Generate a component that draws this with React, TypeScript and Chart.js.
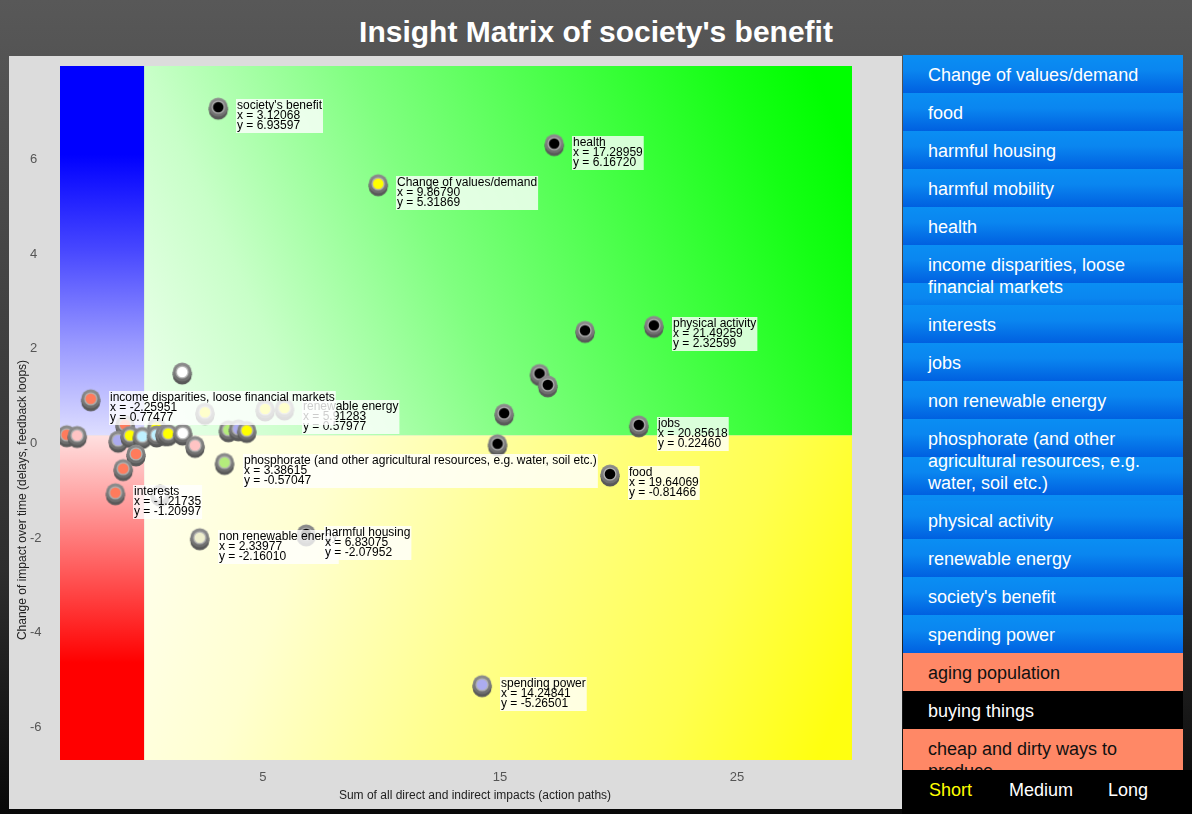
import React, { useEffect, useRef } from 'react';
import { Chart, registerables } from 'chart.js';

Chart.register(...registerables);

// ---------- data ----------
const labeledNames = [
  'Change of values/demand',
  'food',
  'harmful housing',
  'health',
  'income disparities, loose financial markets',
  'interests',
  'jobs',
  'non renewable energy',
  'phosphorate (and other agricultural resources, e.g. water, soil etc.)',
  'physical activity',
  'renewable energy',
  "society's benefit",
  'spending power',
];
const labeledX = [9.8679, 19.64069, 6.83075, 17.28959, -2.25951, -1.21735, 20.85618, 2.33977, 3.38615, 21.49259, 5.91283, 3.12068, 14.24841];
const labeledY = [5.31869, -0.81466, -2.07952, 6.1672, 0.77477, -1.20997, 0.2246, -2.1601, -0.57047, 2.32599, 0.57977, 6.93597, -5.26501];
const labeledColors = ['#ffff00', '#000000', '#000000', '#000000', '#ff7b5c', '#ff7b5c', '#000000', '#eeeecc', '#b4ec7c', '#000000', '#ffff00', '#000000', '#acacf0'];

const otherX = [18.59, 16.67, 17.02, 15.18, 14.9, 1.6, -3.27, -2.83, -0.81, -1.1, -0.6, 0.52, -0.08, 0.52, 0.87, 1.01, 1.62, 2.14, -0.35, -0.89, 2.56, 5.1, 3.55, 3.97, 4.32, 0.67];
const otherY = [2.22, 1.31, 1.07, 0.47, -0.175, 1.34, 0.015, 0.0, 0.23, -0.1, 0.0, 0.17, -0.02, 0.01, 0.04, 0.04, 0.05, -0.21, -0.39, -0.7, 0.49, 0.56, 0.12, 0.14, 0.105, -1.24];
const otherColors = ['#000000', '#000000', '#000000', '#000000', '#000000', '#ffffff', '#ff7b5c', '#ffc4c4', '#ff7b5c', '#acacf0', '#ffff00', '#ffff00', '#bff0ff', '#bff0ff', '#acacf0', '#ffff00', '#ffffff', '#ffc4c4', '#ff7b5c', '#ff7b5c', '#ffff00', '#ffff00', '#b4ec7c', '#acacf0', '#ffff00', '#ffffff'];

const xTicks = [5, 15, 25];
const yTicks = [-6, -4, -2, 0, 2, 4, 6];
const X_MIN = -3.554;
const X_MAX = 29.85;
const Y_MIN = -6.857;
const Y_MAX = 7.806;

const titleText = "Insight Matrix of society's benefit";
const xTitle = 'Sum of all direct and indirect impacts (action paths)';
const yTitle = 'Change of impact over time (delays, feedback loops)';

const sidebarLabels = [
  'Change of values/demand',
  'food',
  'harmful housing',
  'harmful mobility',
  'health',
  'income disparities, loose financial markets',
  'interests',
  'jobs',
  'non renewable energy',
  'phosphorate (and other agricultural resources, e.g. water, soil etc.)',
  'physical activity',
  'renewable energy',
  "society's benefit",
  'spending power',
  'aging population',
  'buying things',
  'cheap and dirty ways to produce',
];
const sidebarKinds = ['blue', 'blue', 'blue', 'blue', 'blue', 'blue', 'blue', 'blue', 'blue', 'blue', 'blue', 'blue', 'blue', 'blue', 'salmon', 'black', 'salmon'];
const tabLabels = ['Short', 'Medium', 'Long'];
const tabColors = ['#ffff00', '#ffffff', '#ffffff'];
const tabLefts = [929, 1009, 1108];

const FONT = '"Liberation Sans", Arial, Helvetica, sans-serif';

// ---------- marker images ----------
function makeMarker(color: string): HTMLCanvasElement {
  const c = document.createElement('canvas');
  c.width = 22;
  c.height = 34;
  const g = c.getContext('2d') as CanvasRenderingContext2D;
  const cx = 11;
  const cy = 17;
  const r = 9.5;
  g.fillStyle = '#595959';
  g.beginPath();
  g.arc(cx, cy + 3, r, 0, Math.PI * 2);
  g.fill();
  g.fillRect(cx - r, cy, r * 2, 3);
  const grd = g.createLinearGradient(0, cy - r, 0, cy + r);
  grd.addColorStop(0, '#8e8e8e');
  grd.addColorStop(1, '#6c6c6c');
  g.fillStyle = grd;
  g.beginPath();
  g.arc(cx, cy, r, 0, Math.PI * 2);
  g.fill();
  g.fillStyle = '#b2b2b2';
  g.beginPath();
  g.arc(cx, cy, 6.6, 0, Math.PI * 2);
  g.fill();
  g.fillStyle = color;
  g.beginPath();
  g.arc(cx, cy, 5.3, 0, Math.PI * 2);
  g.fill();
  return c;
}

// ---------- plugins ----------
const quadrantPlugin = {
  id: 'quadrants',
  beforeDatasetsDraw(chart: any) {
    const { ctx, chartArea: a, scales } = chart;
    const x0 = scales.x.getPixelForValue(0);
    const y0 = scales.y.getPixelForValue(0);
    ctx.save();
    let g = ctx.createLinearGradient(0, a.top, 0, y0);
    g.addColorStop(0, '#0000ff');
    g.addColorStop(0.24, '#0000ff');
    g.addColorStop(0.5, '#4848ff');
    g.addColorStop(0.75, '#9898ff');
    g.addColorStop(1, '#dedeff');
    ctx.fillStyle = g;
    ctx.fillRect(a.left, a.top, x0 - a.left, y0 - a.top);
    g = ctx.createLinearGradient(0, y0, 0, a.bottom);
    g.addColorStop(0, '#ffe0e0');
    g.addColorStop(0.35, '#ff7070');
    g.addColorStop(0.7, '#ff0000');
    g.addColorStop(1, '#ff0000');
    ctx.fillStyle = g;
    ctx.fillRect(a.left, y0, x0 - a.left, a.bottom - y0);
    g = ctx.createLinearGradient(x0, y0, x0 + 0.98 * (a.right - x0), y0 - 0.84 * (y0 - a.top));
    g.addColorStop(0, '#eeffee');
    g.addColorStop(0.2, '#c8ffc8');
    g.addColorStop(0.45, '#80ff80');
    g.addColorStop(0.7, '#44ff44');
    g.addColorStop(0.9, '#14ff14');
    g.addColorStop(1, '#00ff00');
    ctx.fillStyle = g;
    ctx.fillRect(x0, a.top, a.right - x0, y0 - a.top);
    g = ctx.createLinearGradient(x0, y0, x0 + 0.98 * (a.right - x0), y0 + 0.84 * (a.bottom - y0));
    g.addColorStop(0, '#fffff2');
    g.addColorStop(0.25, '#ffffd0');
    g.addColorStop(0.5, '#ffff90');
    g.addColorStop(0.8, '#ffff50');
    g.addColorStop(1, '#ffff10');
    ctx.fillStyle = g;
    ctx.fillRect(x0, y0, a.right - x0, a.bottom - y0);
    ctx.restore();
  },
};

const labelPlugin = {
  id: 'pointLabels',
  afterDatasetsDraw(chart: any) {
    const ctx = chart.ctx;
    const meta = chart.getDatasetMeta(1);
    const order = labeledNames
      .map((_, i) => i)
      .sort((a, b) => labeledNames[b].localeCompare(labeledNames[a]));
    ctx.save();
    ctx.font = '12px ' + FONT;
    ctx.textAlign = 'left';
    ctx.textBaseline = 'alphabetic';
    for (const i of order) {
      const el = meta.data[i];
      const lines = [labeledNames[i], 'x = ' + labeledX[i].toFixed(5), 'y = ' + labeledY[i].toFixed(5)];
      const w = Math.max(...lines.map((l) => ctx.measureText(l).width)) + 2;
      const bx = Math.round(el.x + 18);
      const by = Math.round(el.y - 8);
      ctx.fillStyle = 'rgba(255,255,255,0.8)';
      ctx.fillRect(bx, by, w, 34);
      ctx.fillStyle = '#000';
      lines.forEach((l, k) => ctx.fillText(l, bx + 1, by + 10 + k * 10));
    }
    ctx.restore();
  },
};

const axisTitlePlugin = {
  id: 'axisTitles',
  afterDraw(chart: any) {
    const { ctx, chartArea: a } = chart;
    ctx.save();
    ctx.font = '12px ' + FONT;
    ctx.fillStyle = '#222';
    ctx.textAlign = 'center';
    ctx.textBaseline = 'middle';
    ctx.fillText(xTitle, a.left + 415, a.bottom + 36);
    ctx.translate(13.5, a.bottom - 260);
    ctx.rotate(-Math.PI / 2);
    ctx.fillText(yTitle, 0, 0);
    ctx.restore();
  },
};

function MatrixChart() {
  const ref = useRef<HTMLCanvasElement | null>(null);
  useEffect(() => {
    if (!ref.current) return;
    const otherStyles = otherColors.map(makeMarker);
    const labeledStyles = labeledColors.map(makeMarker);
    const chart = new Chart(ref.current, {
      type: 'scatter',
      data: {
        datasets: [
          {
            data: otherX.map((x, i) => ({ x, y: otherY[i] })),
            pointStyle: otherStyles as any,
            pointRadius: 9,
            pointHoverRadius: 9,
          },
          {
            data: labeledX.map((x, i) => ({ x, y: labeledY[i] })),
            pointStyle: labeledStyles as any,
            pointRadius: 9,
            pointHoverRadius: 9,
          },
        ],
      },
      options: {
        responsive: false,
        animation: false,
        events: [],
        layout: { padding: { top: 9, right: 50, left: 21, bottom: 0 } },
        plugins: {
          legend: { display: false },
          tooltip: { enabled: false },
        },
        scales: {
          x: {
            type: 'linear',
            min: X_MIN,
            max: X_MAX,
            grid: { display: false, drawTicks: false },
            border: { display: false },
            afterBuildTicks: (s: any) => {
              s.ticks = xTicks.map((v) => ({ value: v }));
            },
            afterFit: (s: any) => {
              s.height = 49;
              s.paddingLeft = 0;
              s.paddingRight = 0;
              s.paddingTop = 0;
              s.paddingBottom = 0;
            },
            ticks: {
              autoSkip: false,
              maxRotation: 0,
              padding: 10,
              color: '#555',
              font: { family: FONT, size: 13 },
              callback: (v: any) => String(v),
            },
          },
          y: {
            type: 'linear',
            min: Y_MIN,
            max: Y_MAX,
            grid: { display: false, drawTicks: false },
            border: { display: false },
            afterBuildTicks: (s: any) => {
              s.ticks = yTicks.map((v) => ({ value: v }));
            },
            afterFit: (s: any) => {
              s.width = 30;
              s.paddingTop = 0;
              s.paddingBottom = 0;
              s.paddingLeft = 0;
              s.paddingRight = 0;
            },
            ticks: {
              autoSkip: false,
              crossAlign: 'far',
              padding: 18,
              labelOffset: 8,
              color: '#555',
              font: { family: FONT, size: 13 },
              callback: (v: any) => String(v),
            },
          },
        },
      } as any,
      plugins: [quadrantPlugin, labelPlugin, axisTitlePlugin],
    });
    return () => chart.destroy();
  }, []);
  return <canvas ref={ref} width={893} height={753} style={{ display: 'block', width: 893, height: 753 }} />;
}

function itemStyle(kind: string): React.CSSProperties {
  const base: React.CSSProperties = {
    fontSize: 18,
    lineHeight: '22px',
    padding: '9px 15px 7px 25px',
  };
  if (kind === 'blue') {
    return {
      ...base,
      color: '#fff',
      backgroundImage: 'linear-gradient(to bottom, #0a8ef3 0%, #0a86f0 40%, #0060e0 100%)',
      backgroundSize: '100% 38px',
      backgroundRepeat: 'repeat-y',
    };
  }
  if (kind === 'black') return { ...base, color: '#fff', background: '#000' };
  return { ...base, color: '#111', background: '#ff8866' };
}

export default function App() {
  return (
    <div
      style={{
        position: 'absolute',
        left: 0,
        top: 0,
        width: 1192,
        height: 814,
        overflow: 'hidden',
        fontFamily: FONT,
        background: 'linear-gradient(to bottom, #585858 0%, #515151 12%, #2e2e2e 70%, #080808 100%)',
      }}
    >
      <div
        style={{
          position: 'absolute',
          left: 0,
          top: 17,
          width: 1192,
          textAlign: 'center',
          color: '#fff',
          fontWeight: 'bold',
          fontSize: 30,
          lineHeight: '30px',
        }}
      >
        {titleText}
      </div>
      <div style={{ position: 'absolute', left: 9, top: 56, width: 893, height: 753, background: '#dcdcdc' }}>
        <MatrixChart />
      </div>
      <div style={{ position: 'absolute', left: 903, top: 55, width: 280, height: 715, overflow: 'hidden' }}>
        {sidebarLabels.map((t, i) => (
          <div key={i} style={itemStyle(sidebarKinds[i])}>
            {t}
          </div>
        ))}
      </div>
      <div style={{ position: 'absolute', left: 902, top: 770, width: 290, height: 44, background: '#000' }} />
      {tabLabels.map((t, i) => (
        <div
          key={t}
          style={{
            position: 'absolute',
            left: tabLefts[i],
            top: 781,
            fontSize: 18,
            lineHeight: '18px',
            color: tabColors[i],
          }}
        >
          {t}
        </div>
      ))}
    </div>
  );
}
